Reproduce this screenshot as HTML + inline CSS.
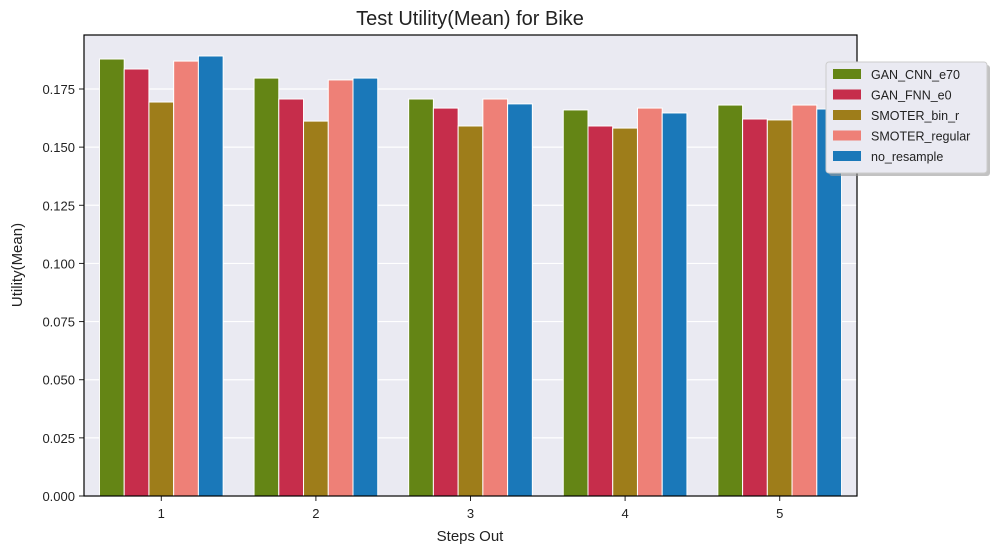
<!DOCTYPE html>
<html><head><meta charset="utf-8"><style>
body{margin:0;background:#fff;font-family:"Liberation Sans",sans-serif;}
</style></head><body>
<svg id="chart" width="996" height="554" xmlns="http://www.w3.org/2000/svg" font-family="Liberation Sans, sans-serif">
<rect x="0" y="0" width="996" height="554" fill="#fff"/>
<text x="470" y="25" font-size="20" text-anchor="middle" fill="#222">Test Utility(Mean) for Bike</text>
<g id="plot"></g>
<text x="470" y="541" font-size="15" text-anchor="middle" fill="#222">Steps Out</text>
<text transform="translate(22,265) rotate(-90)" font-size="15" text-anchor="middle" fill="#222">Utility(Mean)</text>
</svg>
<script>
const categories=["1","2","3","4","5"];
const seriesNames=["GAN_CNN_e70","GAN_FNN_e0","SMOTER_bin_r","SMOTER_regular","no_resample"];
const colors=["#648515","#c62d4b","#9e7d1a","#ee8077","#1a78b9"];
const s0=[0.1879,0.1797,0.1707,0.1660,0.1681];
const s1=[0.1836,0.1707,0.1668,0.1591,0.1621];
const s2=[0.1694,0.1612,0.1591,0.1582,0.1617];
const s3=[0.1870,0.1789,0.1707,0.1668,0.1681];
const s4=[0.1892,0.1797,0.1686,0.1647,0.1664];
const yTicks=["0.000","0.025","0.050","0.075","0.100","0.125","0.150","0.175"];
const series=[s0,s1,s2,s3,s4];
const NS="http://www.w3.org/2000/svg";
const L=84,R=857,T=35,B=496;
const y=v=>B-v*(B-89)/0.175;
const step=(R-L)/categories.length;
const xc=i=>L+step*(i+0.5);
const bw=step*0.8/seriesNames.length;
const g=document.getElementById('plot');
function mk(t,a,p){const e=document.createElementNS(NS,t);for(const k in a)e.setAttribute(k,a[k]);(p||g).appendChild(e);return e;}
const bg=mk('rect',{x:L,y:T,width:R-L,height:B-T,fill:'#eaeaf2'});


yTicks.forEach(t=>{const yy=y(parseFloat(t));
const ln=mk('line',{x1:L,x2:R,y1:yy,y2:yy,stroke:'#fff','stroke-width':1.2});


const tk=mk('line',{x1:L-5,x2:L,y1:yy,y2:yy,stroke:'#222'});


const tx=mk('text',{x:L-9,y:yy+5,'font-size':13,'text-anchor':'end',fill:'#222'});tx.textContent=t;


});
categories.forEach((c,i)=>{
 series.forEach((s,j)=>{
  const x0=xc(i)-step*0.4+j*bw;
  const r=mk('rect',{x:x0,y:y(s[i]),width:bw,height:B-y(s[i]),fill:colors[j],stroke:'#fff','stroke-width':1});
  
  
 });
 const tk=mk('line',{x1:xc(i),x2:xc(i),y1:B,y2:B+5,stroke:'#222'});
 
 
 const tx=mk('text',{x:xc(i),y:B+22,'font-size':13,'text-anchor':'middle',fill:'#222'});tx.textContent=c;
 
 
});
const fr=mk('rect',{x:L,y:T,width:R-L,height:B-T,fill:'none',stroke:'#000','stroke-width':1.2});


const lg=mk('g',{});


mk('rect',{x:829,y:65,width:161,height:111,rx:3,fill:'#999',opacity:0.6},lg);
const lb=mk('rect',{x:826,y:62,width:161,height:111,rx:3,fill:'#eaeaf2',stroke:'#ccc'},lg);


seriesNames.forEach((n,j)=>{
 const e=mk('g',{},lg);
 
 
 const yy=69+j*20.5;
 mk('rect',{x:833,y:yy,width:28,height:10,fill:colors[j]},e);
 const t=mk('text',{x:871,y:yy+10,'font-size':12.5,fill:'#222'},e);t.textContent=n;
});
</script>
</body></html>
